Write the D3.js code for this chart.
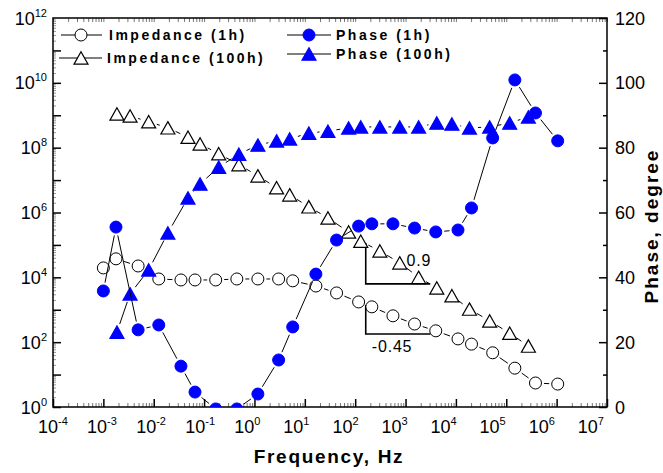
<!DOCTYPE html>
<html>
<head>
<meta charset="utf-8">
<script src="https://cdn.jsdelivr.net/npm/d3@7"></script>
<style>
body { margin: 0; background: #fff; }
text { font-family: "Liberation Sans", Arial, sans-serif; fill: #000; }
</style>
</head>
<body>
<div id="chart"></div>
<script>
// data
var freq1h = [0.001, 0.00178, 0.0049, 0.0126, 0.0347, 0.066, 0.17, 0.447, 1.17, 3.02, 5.75, 16.6,
    42.7, 117, 214, 562, 1510, 3980, 11000, 20400, 53700, 148000, 380000, 1050000];
var impedance1h = [19500, 37200, 22400, 8900, 8300, 8300, 8300, 8900, 8900, 8900, 7800, 5400,
    3300, 1740, 1230, 650, 363, 224, 126, 87, 47, 15.8, 5.5, 5.1];
var phase1h = [35.8, 55.5, 23.8, 25.3, 12.6, 4.6, -0.6, -0.6, 4.0, 14.5, 24.7, 41.0,
    51.5, 55.8, 56.5, 56.5, 55.2, 54.0, 54.6, 61.4, 83.0, 100.9, 90.7, 82.1];

var freq100h = [0.00186, 0.00339, 0.00794, 0.0191, 0.0479, 0.0832, 0.195, 0.49, 1.17, 2.75, 5.01, 12.0,
    28.8, 74.1, 129, 309, 767, 1820, 4170, 8320, 18600, 46800, 117000, 275000];
var impedance100h = [1.1e9, 9.5e8, 6.3e8, 4.1e8, 2.1e8, 1.3e8, 6.5e7, 3.0e7, 1.35e7, 5.8e6, 3.5e6, 1.5e6,
    6.8e5, 2.5e5, 1.3e5, 6.5e4, 2.8e4, 1.0e4, 4.7e3, 2.7e3, 1.05e3, 450, 190, 76];
var phase100h = [23.1, 34.9, 42.3, 53.7, 64.5, 68.8, 74.0, 78.0, 80.8, 82.1, 82.7, 84.5,
    85.1, 86.1, 86.4, 86.4, 86.4, 86.4, 87.6, 87.3, 86.1, 86.4, 87.6, 89.5];

var xExponents = [-4, -3, -2, -1, 0, 1, 2, 3, 4, 5, 6, 7];
var yLeftExponents = [0, 2, 4, 6, 8, 10, 12];
var yRightTicks = [0, 20, 40, 60, 80, 100, 120];

// slope guides: corner freq, end freq, top value, corner value, label spot
var slopes = [
    {f1: 162, f2: 3100, z1: 1.15e5, z2: 6300, label: "0.9", lf: 1050, lz: 2.3e4},
    {f1: 162, f2: 3100, z1: 1400, z2: 178, label: "-0.45", lf: 214, lz: 50}
];

var width = 663, height = 473;
var margin = {top: 18, right: 56, bottom: 66, left: 53};
var plotW = width - margin.left - margin.right,
    plotH = height - margin.top - margin.bottom;

var svg = d3.select("#chart").append("svg")
    .attr("width", width)
    .attr("height", height);

var x = d3.scaleLog().domain([1e-4, 1e7]).range([margin.left, margin.left + plotW]);
var yL = d3.scaleLog().domain([1, 1e12]).range([margin.top + plotH, margin.top]);
var yR = d3.scaleLinear().domain([0, 120]).range([margin.top + plotH, margin.top]);

svg.append("clipPath").attr("id", "plotclip")
    .append("rect")
    .attr("x", margin.left).attr("y", margin.top)
    .attr("width", plotW).attr("height", plotH);

// minor ticks of the log axes
var xMinor = [], yMinor = [];
xExponents.forEach(function(e) {
    if (e < 7) for (var k = 2; k < 10; k++) xMinor.push(k * Math.pow(10, e));
});
for (var e = 0; e < 12; e++) yMinor.push(Math.pow(10, e));
var yMinorSmall = [];
for (var e2 = 0; e2 < 12; e2++) for (var k2 = 2; k2 < 10; k2++) yMinorSmall.push(k2 * Math.pow(10, e2));

var axes = svg.append("g");

axes.append("g")
    .attr("transform", "translate(0," + (margin.top + plotH) + ")")
    .call(d3.axisBottom(x).tickValues(xMinor).tickSize(-4).tickFormat(""))
    .call(g => g.select(".domain").remove())
    .selectAll("line").attr("stroke", "#777");
axes.append("g")
    .attr("transform", "translate(0," + margin.top + ")")
    .call(d3.axisTop(x).tickValues(xMinor).tickSize(-4).tickFormat(""))
    .call(g => g.select(".domain").remove())
    .selectAll("line").attr("stroke", "#777");
axes.append("g")
    .attr("transform", "translate(0," + (margin.top + plotH) + ")")
    .call(d3.axisBottom(x).tickValues(xExponents.map(d => Math.pow(10, d))).tickSize(-8).tickFormat(""))
    .call(g => g.select(".domain").remove())
    .selectAll("line").attr("stroke-width", 1.5);
axes.append("g")
    .attr("transform", "translate(0," + margin.top + ")")
    .call(d3.axisTop(x).tickValues(xExponents.map(d => Math.pow(10, d))).tickSize(-4).tickFormat(""))
    .call(g => g.select(".domain").remove())
    .selectAll("line").attr("stroke", "#777");

axes.append("g")
    .attr("transform", "translate(" + margin.left + ",0)")
    .call(d3.axisLeft(yL).tickValues(yMinorSmall).tickSize(-3).tickFormat(""))
    .call(g => g.select(".domain").remove())
    .selectAll("line").attr("stroke", "#999");
axes.append("g")
    .attr("transform", "translate(" + margin.left + ",0)")
    .call(d3.axisLeft(yL).tickValues(yMinor).tickSize(-8).tickFormat(""))
    .call(g => g.select(".domain").remove())
    .selectAll("line").attr("stroke-width", 1.5);

axes.append("g")
    .attr("transform", "translate(" + (margin.left + plotW) + ",0)")
    .call(d3.axisRight(yR).tickValues(d3.range(10, 120, 20)).tickSize(-4).tickFormat(""))
    .call(g => g.select(".domain").remove())
    .selectAll("line").attr("stroke-width", 1.5);
axes.append("g")
    .attr("transform", "translate(" + (margin.left + plotW) + ",0)")
    .call(d3.axisRight(yR).tickValues(yRightTicks).tickSize(-8).tickFormat(""))
    .call(g => g.select(".domain").remove())
    .selectAll("line").attr("stroke-width", 1.5);

// frame
svg.append("rect")
    .attr("x", margin.left).attr("y", margin.top)
    .attr("width", plotW).attr("height", plotH)
    .attr("fill", "none").attr("stroke", "#000").attr("stroke-width", 1.5);

// tick labels with superscripts
function powLabel(sel, exp) {
    sel.append("tspan").text("10");
    sel.append("tspan").attr("dy", -8).attr("font-size", 11).text(exp);
}
// the original labels drift a little left of their ticks as the exponent grows
xExponents.forEach(function(e) {
    svg.append("text")
        .attr("x", x(Math.pow(10, e)) - 15 - 1.3 * (e + 4))
        .attr("y", 433)
        .attr("font-size", 18)
        .call(powLabel, e);
});
yLeftExponents.forEach(function(e) {
    svg.append("text")
        .attr("x", 47)
        .attr("y", yL(Math.pow(10, e)) + 6.5)
        .attr("text-anchor", "end")
        .attr("font-size", 18)
        .call(powLabel, e);
});
yRightTicks.forEach(function(v) {
    svg.append("text")
        .attr("x", 615)
        .attr("y", yR(v) + 6.5)
        .attr("font-size", 18)
        .text(v);
});

// axis titles
svg.append("text")
    .attr("x", 329).attr("y", 463)
    .attr("text-anchor", "middle")
    .attr("font-size", 19).attr("font-weight", "bold")
    .attr("letter-spacing", 1.7)
    .text("Frequency, Hz");
svg.append("text")
    .attr("transform", "translate(658,226) rotate(-90)")
    .attr("text-anchor", "middle")
    .attr("font-size", 19).attr("font-weight", "bold")
    .attr("letter-spacing", 2)
    .text("Phase, degree");

// marker shapes
var R = 6;
var tri = {
    draw: function(ctx, size) {
        var w = 7, h = 6.2;
        ctx.moveTo(0, -h);
        ctx.lineTo(w, h);
        ctx.lineTo(-w, h);
        ctx.closePath();
    }
};

function gapLine(g, pts, gap) {
    for (var i = 0; i < pts.length - 1; i++) {
        var p1 = pts[i], p2 = pts[i + 1];
        var dx = p2[0] - p1[0], dy = p2[1] - p1[1];
        var d = Math.sqrt(dx * dx + dy * dy);
        if (d <= 2 * gap) continue;
        var ux = dx / d, uy = dy / d;
        g.append("line")
            .attr("x1", p1[0] + ux * gap).attr("y1", p1[1] + uy * gap)
            .attr("x2", p2[0] - ux * gap).attr("y2", p2[1] - uy * gap)
            .attr("stroke", "#000").attr("stroke-width", 1);
    }
}

function drawSeries(freqs, vals, yScale, shape, fill, stroke) {
    var g = svg.append("g").attr("clip-path", "url(#plotclip)");
    var pts = freqs.map((f, i) => [x(f), yScale(vals[i])]);
    gapLine(g, pts, R + 2.5);
    var sym = d3.symbol().type(tri);
    g.selectAll(".m")
        .data(pts)
        .enter()
        .each(function(p) {
            var s = d3.select(this);
            if (shape == "circle") {
                s.append("circle").attr("cx", p[0]).attr("cy", p[1]).attr("r", R)
                    .attr("fill", fill).attr("stroke", stroke).attr("stroke-width", 1);
            } else {
                s.append("path").attr("d", sym()).attr("transform", "translate(" + p[0] + "," + p[1] + ")")
                    .attr("fill", fill).attr("stroke", stroke).attr("stroke-width", 1.2);
            }
        });
}

// slope guides (under the markers)
var guide = svg.append("g");
slopes.forEach(function(s) {
    guide.append("path")
        .attr("d", "M" + x(s.f1) + "," + yL(s.z1) + "V" + yL(s.z2) + "H" + x(s.f2))
        .attr("fill", "none").attr("stroke", "#000").attr("stroke-width", 1.6);
    guide.append("text")
        .attr("x", x(s.lf)).attr("y", yL(s.lz))
        .attr("font-size", 16).attr("letter-spacing", 0.8)
        .text(s.label);
});

drawSeries(freq1h, impedance1h, yL, "circle", "#fff", "#000");
drawSeries(freq100h, impedance100h, yL, "tri", "#fff", "#000");
drawSeries(freq100h, phase100h, yR, "tri", "#0000ff", "#0000ff");
drawSeries(freq1h, phase1h, yR, "circle", "#0000ff", "#0000ff");

// legend
var legend = [
    {lx1: 61, lx2: 102, mx: 81, y: 35, shape: "circle", fill: "#fff", stroke: "#000", tx: 109, text: "Impedance (1h)"},
    {lx1: 59, lx2: 102, mx: 81, y: 58, shape: "tri", fill: "#fff", stroke: "#000", tx: 107, text: "Impedance (100h)"},
    {lx1: 287, lx2: 331, mx: 309, y: 35, shape: "circle", fill: "#0000ff", stroke: "#0000ff", tx: 336, text: "Phase (1h)"},
    {lx1: 287, lx2: 331, mx: 309, y: 54, shape: "tri", fill: "#0000ff", stroke: "#0000ff", tx: 336, text: "Phase (100h)"}
];
var lg = svg.append("g");
legend.forEach(function(l) {
    lg.append("line").attr("x1", l.lx1).attr("x2", l.lx2).attr("y1", l.y).attr("y2", l.y)
        .attr("stroke", "#000").attr("stroke-width", 1);
    if (l.shape == "circle") {
        lg.append("circle").attr("cx", l.mx).attr("cy", l.y).attr("r", R)
            .attr("fill", l.fill).attr("stroke", l.stroke);
    } else {
        lg.append("path").attr("d", d3.symbol().type(tri)())
            .attr("transform", "translate(" + l.mx + "," + l.y + ")")
            .attr("fill", l.fill).attr("stroke", l.stroke).attr("stroke-width", 1.2);
    }
    lg.append("text")
        .attr("x", l.tx).attr("y", l.y + 5)
        .attr("font-size", 14).attr("font-weight", "bold")
        .attr("letter-spacing", 2.5)
        .text(l.text);
});
</script>
</body>
</html>
